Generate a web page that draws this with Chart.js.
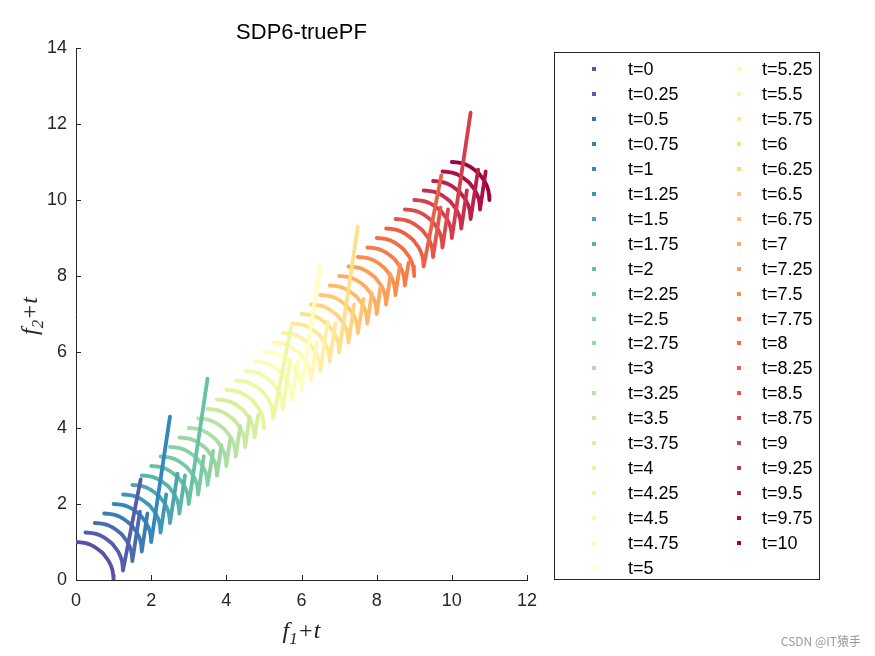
<!DOCTYPE html>
<html>
<head>
<meta charset="utf-8">
<script src="https://cdn.jsdelivr.net/npm/chart.js@4.4.1/dist/chart.umd.min.js"></script>
<style>
  body { margin: 0; background: #fff; }
  #wrap { position: relative; width: 875px; height: 656px; font-family: Arial, "Liberation Sans", sans-serif; }
  #c { position: absolute; left: 0; top: 0; }
  #title { position: absolute; left: 76px; width: 451px; top: 19px; text-align: center; font-size: 22px; color: #000; }
  #xlab { position: absolute; left: 76px; width: 451px; top: 617px; text-align: center; font: italic 24px "Liberation Serif", "Times New Roman", serif; color: #222; }
  #ylab { position: absolute; left: 32px; top: 316px; transform: translate(-50%, -50%) rotate(-90deg); white-space: nowrap; font: italic 24px "Liberation Serif", "Times New Roman", serif; color: #222; }
  sub { font-size: 70%; vertical-align: -0.35em; }
  #legend { position: absolute; left: 554px; top: 52px; width: 264px; height: 526px; border: 1px solid #222; }
  .item { position: absolute; font-size: 18px; line-height: 20px; color: #000; white-space: nowrap; }
  .dot { position: absolute; width: 4px; height: 4px; }
  #mark { position: absolute; right: 14px; top: 632px; font: 12px "Noto Sans CJK SC", Arial, sans-serif; color: #9a9a9a; }
</style>
</head>
<body>
<div id="wrap">
  <canvas id="c" width="875" height="656"></canvas>
  <div id="title">SDP6-truePF</div>
  <div id="xlab"><i>f</i><sub>1</sub>+<i>t</i></div>
  <div id="ylab"><i>f</i><sub>2</sub>+<i>t</i></div>
  <div id="legend"></div>
  <div id="mark">CSDN @IT猿手</div>
</div>
<script>
// time steps (one front per step)
const tValues = [0, 0.25, 0.5, 0.75, 1, 1.25, 1.5, 1.75, 2, 2.25, 2.5, 2.75, 3, 3.25, 3.5, 3.75,
  4, 4.25, 4.5, 4.75, 5, 5.25, 5.5, 5.75, 6, 6.25, 6.5, 6.75, 7, 7.25, 7.5, 7.75,
  8, 8.25, 8.5, 8.75, 9, 9.25, 9.5, 9.75, 10];

// front shape read from the t=0 curve (f1, f2)
const frontF1 = [0, 0.13, 0.26, 0.38, 0.5, 0.61, 0.71, 0.79, 0.87, 0.93, 0.97, 0.99, 1.0];
const frontF2 = [1, 0.99, 0.97, 0.93, 0.87, 0.79, 0.71, 0.61, 0.5, 0.38, 0.26, 0.13, 0];

// steep tail after the arc end: horizontal run and height above (1+t, t)
const tailDx = [0, 0.47, 0.2, 0.15, 0.5, 0.15, 0.2, 0.15, 0.5, 0.15, 0.15, 0.12,
  0.1, 0.12, 0.12, 0.1, 0, 0.47, 0.2, 0.15, 0.5, 0.15, 0.2, 0.15,
  0.5, 0.15, 0.15, 0.12, 0.1, 0.12, 0.12, 0.1, 0, 0.47, 0.2, 0.15,
  0.5, 0.15, 0.2, 0.15, 0];
const tailH = [0, 2.4, 1.3, 1.0, 3.3, 1.0, 1.3, 1.0, 3.3, 1.0, 0.9, 0.8,
  0.7, 0.8, 0.8, 0.6, 0, 2.4, 1.3, 1.0, 3.3, 1.0, 1.3, 1.0,
  3.3, 1.0, 0.9, 0.8, 0.7, 0.8, 0.8, 0.6, 0, 2.4, 1.3, 1.0,
  3.3, 1.0, 1.3, 1.0, 0];

const xTicks = [0, 2, 4, 6, 8, 10, 12];
const yTicks = [0, 2, 4, 6, 8, 10, 12, 14];

// reversed Spectral colour map
const spectral = ['#5e4fa2', '#3288bd', '#66c2a5', '#abdda4', '#e6f598', '#ffffbf',
  '#fee08b', '#fdae61', '#f46d43', '#d53e4f', '#9e0142'];

function hex(c) { return [1, 3, 5].map(i => parseInt(c.substr(i, 2), 16)); }
function colorAt(i, n) {
  const p = i / (n - 1) * (spectral.length - 1);
  const k = Math.min(Math.floor(p), spectral.length - 2);
  const f = p - k;
  const a = hex(spectral[k]), b = hex(spectral[k + 1]);
  const c = a.map((v, j) => Math.round(v + (b[j] - v) * f));
  return 'rgb(' + c.join(',') + ')';
}

const datasets = tValues.map((t, i) => {
  const pts = frontF1.map((f, k) => ({ x: f + t, y: frontF2[k] + t }));
  if (tailH[i] > 0) pts.push({ x: 1 + t + tailDx[i], y: t + tailH[i] });
  const col = colorAt(i, tValues.length);
  return {
    label: 't=' + t,
    data: pts,
    showLine: true,
    borderColor: col,
    backgroundColor: col,
    borderWidth: 3.8,
    pointRadius: 0,
    borderCapStyle: 'round',
    borderJoinStyle: 'round'
  };
});

// inward ticks like the original axes
const inwardTicks = {
  id: 'inwardTicks',
  afterDraw(chart) {
    const g = chart.ctx, a = chart.chartArea;
    const xs = chart.scales.x, ys = chart.scales.y;
    g.save();
    g.strokeStyle = '#262626';
    g.lineWidth = 1;
    g.beginPath();
    xTicks.forEach(v => { const p = Math.round(xs.getPixelForValue(v)) + 0.5; g.moveTo(p, a.bottom); g.lineTo(p, a.bottom - 5); });
    yTicks.forEach(v => { const p = Math.round(ys.getPixelForValue(v)) + 0.5; g.moveTo(a.left, p); g.lineTo(a.left + 5, p); });
    g.stroke();
    g.restore();
  }
};

new Chart(document.getElementById('c'), {
  type: 'scatter',
  data: { datasets },
  options: {
    responsive: false,
    animation: false,
    devicePixelRatio: 1,
    layout: { padding: { left: 0, top: 48, right: 348, bottom: 0 } },
    plugins: { legend: { display: false }, tooltip: { enabled: false } },
    scales: {
      x: {
        type: 'linear', min: 0, max: 12,
        afterFit: s => { s.height = 76; },
        grid: { display: false, drawTicks: false },
        border: { display: true, color: '#262626', width: 1 },
        ticks: { stepSize: 2, color: '#262626', padding: 10, font: { size: 18, family: 'Arial' } }
      },
      y: {
        type: 'linear', min: 0, max: 14,
        afterFit: s => { s.width = 76; },
        grid: { display: false, drawTicks: false },
        border: { display: true, color: '#262626', width: 1 },
        ticks: { stepSize: 2, color: '#262626', padding: 9, font: { size: 18, family: 'Arial' } }
      }
    }
  },
  plugins: [inwardTicks]
});

// legend: two columns, 21 rows in the first
const leg = document.getElementById('legend');
tValues.forEach((t, i) => {
  const col = i < 21 ? 0 : 1;
  const row = i < 21 ? i : i - 21;
  const cy = 16 + row * 24.95;
  const dot = document.createElement('div');
  dot.className = 'dot';
  dot.style.left = (col ? 182 : 37) + 'px';
  dot.style.top = (cy - 2) + 'px';
  dot.style.background = colorAt(i, tValues.length);
  leg.appendChild(dot);
  const it = document.createElement('div');
  it.className = 'item';
  it.style.left = (col ? 207 : 73) + 'px';
  it.style.top = (cy - 10) + 'px';
  it.textContent = 't=' + t;
  leg.appendChild(it);
});
</script>
</body>
</html>
